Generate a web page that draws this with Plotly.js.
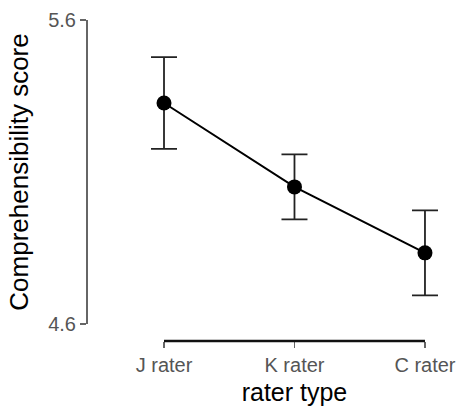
<!DOCTYPE html>
<html>
<head>
<meta charset="utf-8">
<script src="https://cdn.plot.ly/plotly-3.0.1.min.js"></script>
<style>html,body{margin:0;padding:0;background:#fff;}#chart{width:460px;height:410px;}</style>
</head>
<body>
<div id="chart"></div>
<script>
var categories = ["J rater", "K rater", "C rater"];
var means = [5.327, 5.051, 4.834];
var errors = [0.151, 0.107, 0.140];
var yTickVals = [4.6, 5.6];
var yTickText = ["4.6", "5.6"];

var trace = {
  x: categories,
  y: means,
  type: "scatter",
  mode: "lines+markers",
  cliponaxis: false,
  line: {color: "#000", width: 2},
  marker: {color: "#000", size: 15},
  error_y: {type: "data", array: errors, visible: true, color: "#222", thickness: 1.8, width: 13}
};

var layout = {
  width: 460, height: 410,
  margin: {l: 86, r: 2, t: 20, b: 69},
  paper_bgcolor: "#fff", plot_bgcolor: "#fff",
  showlegend: false,
  font: {family: "Liberation Sans, Arial, sans-serif"},
  xaxis: {
    type: "category",
    domain: [0.122, 0.9989],
    range: [-0.25, 2.25],
    anchor: "free", position: 0,
    showgrid: false, zeroline: false,
    showline: false,
    ticks: "outside", ticklen: 6, tickcolor: "#666", tickwidth: 1.2,
    tickfont: {size: 20, color: "#555"},
    title: {text: "rater type", font: {size: 25, color: "#000"}, standoff: 8}
  },
  yaxis: {
    domain: [0.053, 1],
    range: [4.6, 5.6],
    anchor: "free", position: 0,
    showgrid: false, zeroline: false,
    showline: true, linecolor: "#666", linewidth: 1.5,
    ticks: "outside", ticklen: 6, tickcolor: "#666", tickwidth: 1.5,
    tickvals: yTickVals, ticktext: yTickText,
    tickfont: {size: 20, color: "#555"},
    title: {text: "Comprehensibility score", font: {size: 26, color: "#000"}, standoff: 10}
  },
  shapes: [{
    type: "line", xref: "x", yref: "paper",
    x0: 0, x1: categories.length - 1, y0: 0, y1: 0,
    line: {color: "#111", width: 2.5}
  }]
};

Plotly.newPlot("chart", [trace], layout, {displayModeBar: false, staticPlot: true});
</script>
</body>
</html>
